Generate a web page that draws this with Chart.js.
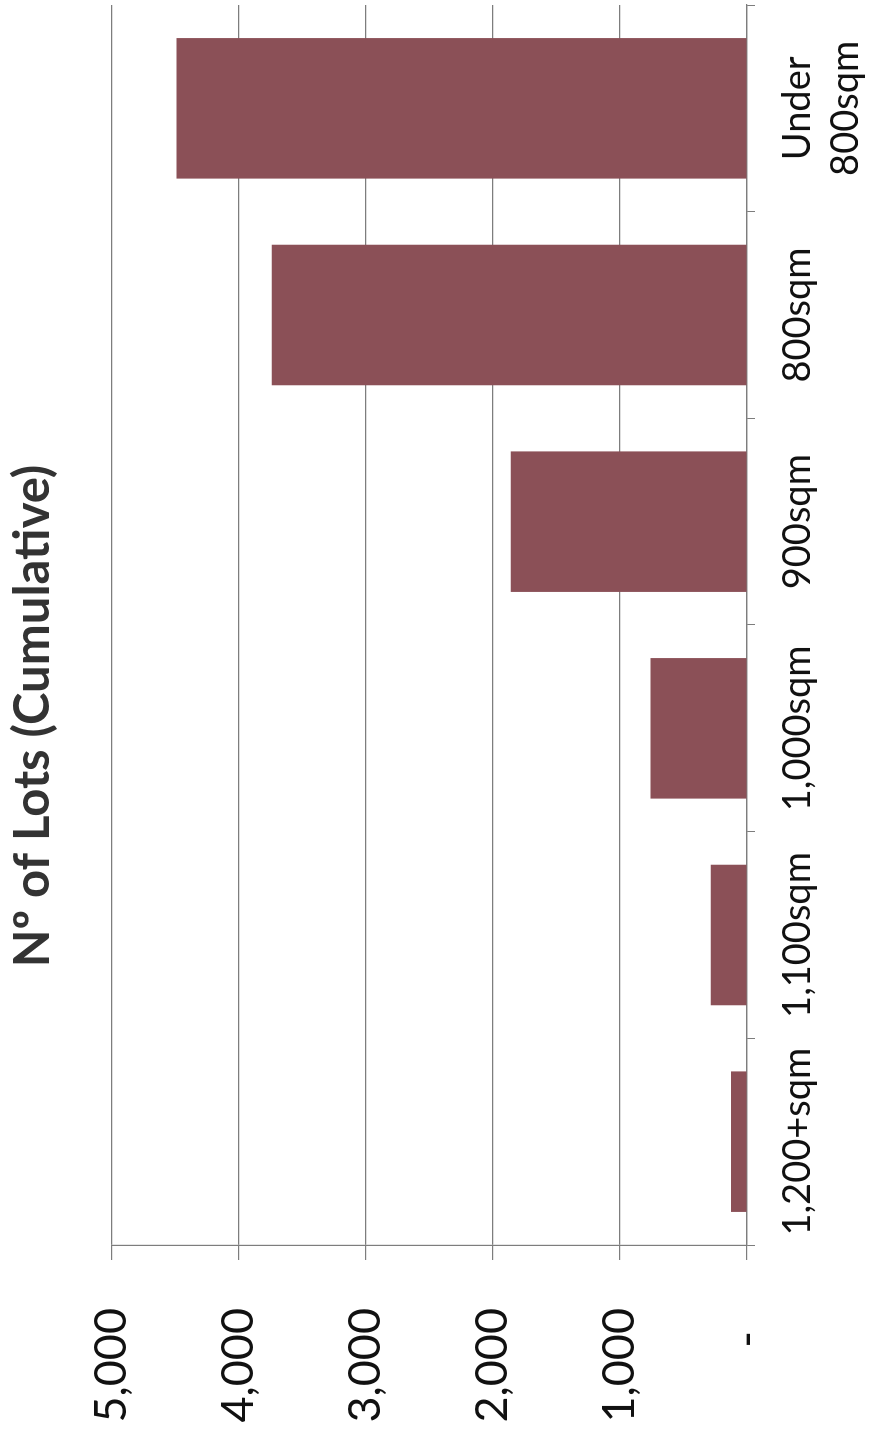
<!DOCTYPE html>
<html>
<head>
<meta charset="utf-8">
<title>Lots (Cumulative)</title>
<script src="https://cdn.jsdelivr.net/npm/chart.js@4"></script>
<style>
    html, body { margin: 0; padding: 0; background: #fff; overflow: hidden; }
    /* chart is drawn upright, then turned a quarter turn anticlockwise like the scan */
    #wrap {
        position: absolute; left: 0; top: 0;
        width: 1437px; height: 870px;
        transform-origin: 0 0;
        transform: translateY(1437px) rotate(-90deg);
    }
</style>
</head>
<body>
<div id="wrap"><canvas id="lots-chart" width="1437" height="870"></canvas></div>
<script>
// Chart data
const categories = ['1,200+sqm', '1,100sqm', '1,000sqm', '900sqm', '800sqm', ['Under', '800sqm']];
const lotCounts = [125, 285, 760, 1860, 3740, 4490];
const valueTicks = [0, 1000, 2000, 3000, 4000, 5000];
const chartTitle = 'Nº of Lots (Cumulative)';

const FONT = "Lato, 'Open Sans', sans-serif";
const lineGrey = '#7d7d7d';

// Format number with commas, zero shown as a dash (accounting style)
function formatTick(value) {
    if (value === 0) return '-  ';
    return value.toString().replace(/\B(?=(\d{3})+(?!\d))/g, ',');
}

const ctx = document.getElementById('lots-chart').getContext('2d');

new Chart(ctx, {
    type: 'bar',
    data: {
        labels: categories,
        datasets: [{
            label: chartTitle,
            data: lotCounts,
            backgroundColor: '#8b5057',
            borderWidth: 0,
            barPercentage: 0.68,
            categoryPercentage: 1.0
        }]
    },
    options: {
        responsive: false,
        animation: false,
        devicePixelRatio: 1,
        layout: {
            padding: { left: 10, right: 5, top: 0, bottom: 0 }
        },
        plugins: {
            legend: { display: false },
            tooltip: { enabled: false },
            title: {
                display: true,
                text: chartTitle,
                color: '#333',
                font: { family: FONT, size: 49, weight: 'bold', lineHeight: 1.2 },
                padding: { top: 4, bottom: 49 }
            }
        },
        scales: {
            x: {
                grid: {
                    offset: true,
                    drawOnChartArea: false,
                    drawTicks: true,
                    tickLength: 8,
                    color: lineGrey
                },
                border: { color: lineGrey, width: 1.2 },
                ticks: {
                    color: '#111',
                    padding: 19,
                    maxRotation: 0,
                    autoSkip: false,
                    font: { family: FONT, size: 38, lineHeight: 1.25 }
                },
                afterFit: function (scale) { scale.height = 123; }
            },
            y: {
                min: valueTicks[0],
                max: valueTicks[valueTicks.length - 1],
                afterBuildTicks: function (scale) {
                    scale.ticks = valueTicks.map(v => ({ value: v }));
                },
                grid: {
                    color: lineGrey,
                    lineWidth: 1.2,
                    tickLength: 15
                },
                border: { color: lineGrey, width: 1.2 },
                ticks: {
                    color: '#111',
                    padding: 48,
                    font: { family: FONT, size: 45 },
                    callback: formatTick
                },
                afterFit: function (scale) { scale.width = 182; }
            }
        }
    }
});
</script>
</body>
</html>
